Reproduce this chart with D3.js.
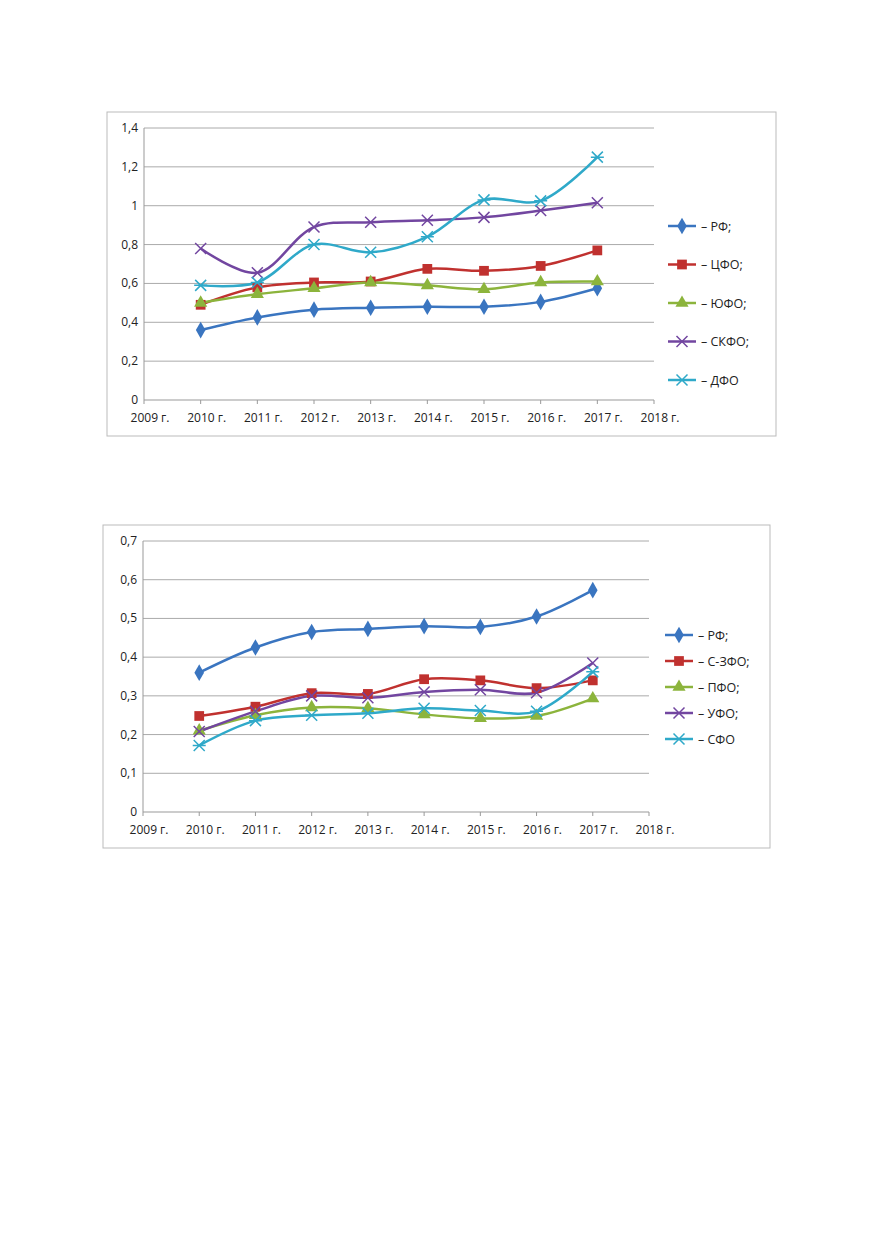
<!DOCTYPE html>
<html><head><meta charset="utf-8">
<script src="https://cdn.jsdelivr.net/npm/d3@7"></script>
<style>body{margin:0;background:#fff;font-family:"Open Sans",sans-serif;}</style>
</head><body><svg id="c" width="879" height="1233"></svg>
<script>
// Years on the x axis
const years = [2009, 2010, 2011, 2012, 2013, 2014, 2015, 2016, 2017, 2018];
const dataYears = [2010, 2011, 2012, 2013, 2014, 2015, 2016, 2017];

// Chart 1
const names1 = ["РФ;", "ЦФО;", "ЮФО;", "СКФО;", "ДФО"];
const rf1 = [0.36, 0.425, 0.465, 0.475, 0.48, 0.48, 0.505, 0.575];
const cfo = [0.49, 0.58, 0.605, 0.61, 0.675, 0.665, 0.69, 0.77];
const yufo = [0.5, 0.545, 0.575, 0.605, 0.59, 0.57, 0.605, 0.61];
const skfo = [0.78, 0.655, 0.89, 0.915, 0.925, 0.94, 0.975, 1.015];
const dfo = [0.59, 0.605, 0.8, 0.76, 0.84, 1.03, 1.025, 1.25];
const ticks1 = [0, 0.2, 0.4, 0.6, 0.8, 1, 1.2, 1.4];

// Chart 2
const names2 = ["РФ;", "С-ЗФО;", "ПФО;", "УФО;", "СФО"];
const rf2 = [0.36, 0.425, 0.465, 0.473, 0.48, 0.478, 0.505, 0.573];
const szfo = [0.248, 0.272, 0.307, 0.305, 0.343, 0.34, 0.32, 0.34];
const pfo = [0.21, 0.25, 0.27, 0.268, 0.252, 0.242, 0.248, 0.293];
const ufo = [0.208, 0.26, 0.3, 0.295, 0.31, 0.316, 0.308, 0.385];
const sfo = [0.172, 0.236, 0.25, 0.255, 0.268, 0.262, 0.26, 0.362];
const ticks2 = [0, 0.1, 0.2, 0.3, 0.4, 0.5, 0.6, 0.7];

const colors = ["#3a75c0", "#c0312f", "#8cb43c", "#7246a0", "#2fa9c9"];
const markers = ["diamond", "square", "triangle", "x", "star"];

const svg = d3.select("#c");
const fmt = v => String(v).replace(".", ",");

function marker(g, type, x, y, color) {
  if (type === "x" || type === "star") {
    const r = 5.5;
    g.append("path").attr("d", `M${x-r},${y-r}L${x+r},${y+r}M${x-r},${y+r}L${x+r},${y-r}` + (type === "star" ? `M${x-r-1},${y}L${x+r+1},${y}` : ""))
      .attr("stroke", color).attr("stroke-width", 1.5).attr("fill", "none");
    return;
  }
  const sym = {diamond: d3.symbolDiamond, square: d3.symbolSquare, triangle: d3.symbolTriangle}[type];
  const size = {diamond: 80, square: 95, triangle: 75}[type];
  g.append("path").attr("d", d3.symbol(sym, size)()).attr("transform", `translate(${x},${y})`).attr("fill", color);
}

function chart(o) {
  const g = svg.append("g");
  g.append("rect").attr("x", o.frame[0]).attr("y", o.frame[1]).attr("width", o.frame[2]).attr("height", o.frame[3])
    .attr("fill", "#fff").attr("stroke", "#bbb");
  const x = d3.scaleLinear().domain([2009, 2018]).range([o.x0, o.x1]);
  const y = d3.scaleLinear().domain([0, o.max]).range([o.y0, o.y1]);
  o.ticks.forEach(t => {
    g.append("line").attr("x1", x(2009)).attr("x2", x(2018)).attr("y1", y(t)).attr("y2", y(t))
      .attr("stroke", t === 0 ? "#999" : "#aaa").attr("stroke-width", 1);
    g.append("text").attr("x", x(2009) - 6).attr("y", y(t) + 4).attr("text-anchor", "end")
      .attr("font-size", 12).attr("fill", "#222").text(fmt(t));
  });
  g.append("line").attr("x1", x(2009)).attr("x2", x(2009)).attr("y1", y(0)).attr("y2", y(o.max)).attr("stroke", "#999");
  years.forEach(yr => {
    g.append("line").attr("x1", x(yr)).attr("x2", x(yr)).attr("y1", y(0)).attr("y2", y(0) + 4).attr("stroke", "#999");
    g.append("text").attr("x", x(yr) + 6).attr("y", y(0) + 22).attr("text-anchor", "middle")
      .attr("font-size", 12).attr("fill", "#222").text(yr + " г.");
  });
  const line = d3.line().x((d, i) => x(dataYears[i])).y(d => y(d)).curve(d3.curveCatmullRom.alpha(0.5));
  o.series.forEach((s, k) => {
    g.append("path").attr("d", line(s)).attr("fill", "none").attr("stroke", colors[k]).attr("stroke-width", 2.5);
  });
  o.series.forEach((s, k) => {
    s.forEach((v, i) => marker(g, markers[k], x(dataYears[i]), y(v), colors[k]));
  });
  o.names.forEach((n, k) => {
    const ly = o.ly + k * o.lstep;
    g.append("line").attr("x1", o.lx).attr("x2", o.lx + 28).attr("y1", ly).attr("y2", ly)
      .attr("stroke", colors[k]).attr("stroke-width", 2.5);
    marker(g, markers[k], o.lx + 14, ly, colors[k]);
    g.append("text").attr("x", o.lx + 33).attr("y", ly + 4.5).attr("font-size", 12.5).attr("fill", "#222").text("– " + n);
  });
}

chart({frame: [107, 112, 669, 324], x0: 144, x1: 654, y0: 400, y1: 128, max: 1.4, ticks: ticks1,
  series: [rf1, cfo, yufo, skfo, dfo], names: names1, lx: 668, ly: 226, lstep: 38.5});
chart({frame: [103, 525, 667, 323], x0: 143, x1: 649, y0: 812, y1: 541, max: 0.7, ticks: ticks2,
  series: [rf2, szfo, pfo, ufo, sfo], names: names2, lx: 665, ly: 635, lstep: 26});
</script></body></html>
